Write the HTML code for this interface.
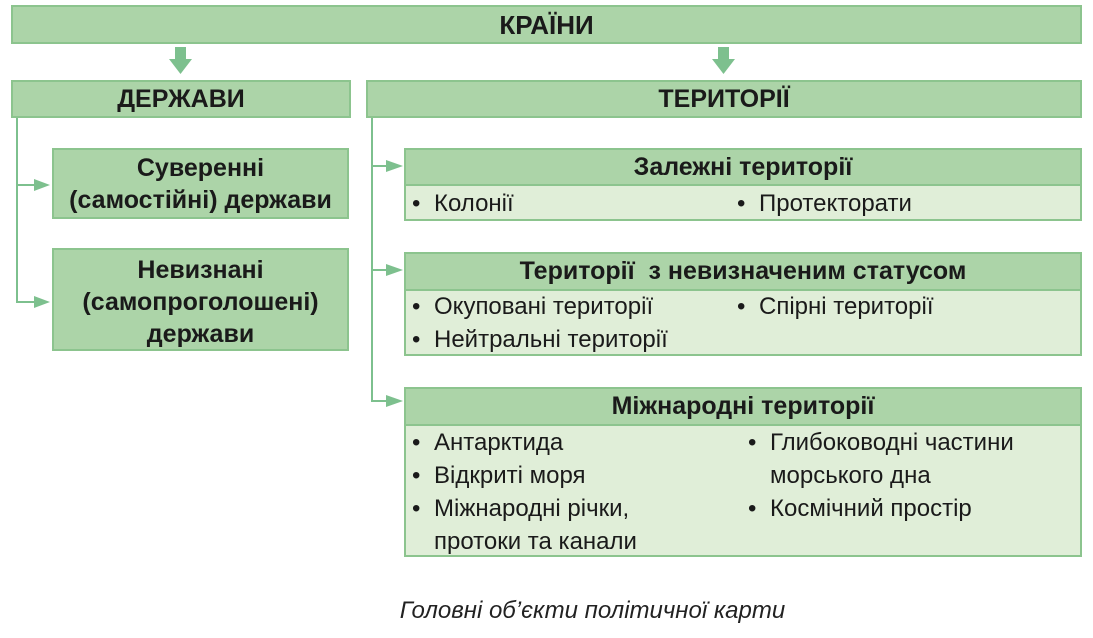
<!DOCTYPE html>
<html><head><meta charset="utf-8"><style>
body{margin:0;width:1093px;height:638px;background:#fff;position:relative;overflow:hidden;font-family:"Liberation Sans",sans-serif;color:#1a1a1a}
.b{position:absolute;box-sizing:border-box;border:2px solid #8cc48e}
.h{background:#acd4a8;font-weight:bold;text-align:center;font-size:25px}
.l{background:#e0eed8}
.t{position:absolute;font-size:24px;white-space:nowrap;line-height:33px;padding-left:22px}
.t::before{content:"•";position:absolute;left:0;top:0}
</style></head><body>
<svg width="1093" height="638" style="position:absolute;left:0;top:0">
<g fill="#7dc08e" stroke="none">
<rect x="175" y="47" width="11" height="13"/><polygon points="169,59 192,59 180.5,74"/>
<rect x="718" y="47" width="11" height="13"/><polygon points="712,59 735,59 723.5,74"/>
</g>
<g stroke="#7dc08e" stroke-width="2" fill="none">
<line x1="17" y1="117" x2="17" y2="303"/><line x1="17" y1="185" x2="36" y2="185"/><line x1="17" y1="302" x2="36" y2="302"/>
<line x1="372" y1="117" x2="372" y2="402"/><line x1="372" y1="166" x2="388" y2="166"/><line x1="372" y1="270" x2="388" y2="270"/><line x1="372" y1="401" x2="388" y2="401"/>
</g>
<g fill="#7dc08e">
<polygon points="34,179 50,185 34,191"/><polygon points="34,296 50,302 34,308"/>
<polygon points="386,160 403,166 386,172"/><polygon points="386,264 403,270 386,276"/><polygon points="386,395 403,401 386,407"/>
</g>
</svg>
<div class="b h" style="left:11px;top:5px;width:1071px;height:39px;font-size:26px;line-height:36px">КРАЇНИ</div>
<div class="b h" style="left:11px;top:80px;width:340px;height:38px;line-height:35px">ДЕРЖАВИ</div>
<div class="b h" style="left:366px;top:80px;width:716px;height:38px;line-height:35px">ТЕРИТОРІЇ</div>
<div class="b h" style="left:52px;top:148px;width:297px;height:71px;line-height:32px;padding-top:2px">Суверенні<br>(самостійні) держави</div>
<div class="b h" style="left:52px;top:248px;width:297px;height:103px;line-height:32px;padding-top:4px">Невизнані<br>(самопроголошені)<br>держави</div>

<div class="b l" style="left:404px;top:148px;width:678px;height:73px"></div>
<div class="b h" style="left:404px;top:148px;width:678px;height:38px;line-height:34px">Залежні території</div>
<div class="t" style="left:412px;top:187px">Колонії</div>
<div class="t" style="left:737px;top:187px">Протекторати</div>

<div class="b l" style="left:404px;top:252px;width:678px;height:104px"></div>
<div class="b h" style="left:404px;top:252px;width:678px;height:39px;line-height:35px">Території&nbsp; з невизначеним статусом</div>
<div class="t" style="left:412px;top:290px">Окуповані території</div>
<div class="t" style="left:412px;top:323px">Нейтральні території</div>
<div class="t" style="left:737px;top:290px">Спірні території</div>

<div class="b l" style="left:404px;top:387px;width:678px;height:170px"></div>
<div class="b h" style="left:404px;top:387px;width:678px;height:39px;line-height:35px">Міжнародні території</div>
<div class="t" style="left:412px;top:426px">Антарктида</div>
<div class="t" style="left:412px;top:459px">Відкриті моря</div>
<div class="t" style="left:412px;top:492px">Міжнародні річки,<br>протоки та канали</div>
<div class="t" style="left:748px;top:426px">Глибоководні частини<br>морського дна</div>
<div class="t" style="left:748px;top:492px">Космічний простір</div>

<div style="position:absolute;left:0;width:1093px;top:597px;text-align:center;font-style:italic;font-size:24px;padding-left:92px;box-sizing:border-box;color:#222">Головні об’єкти політичної карти</div>
</body></html>
